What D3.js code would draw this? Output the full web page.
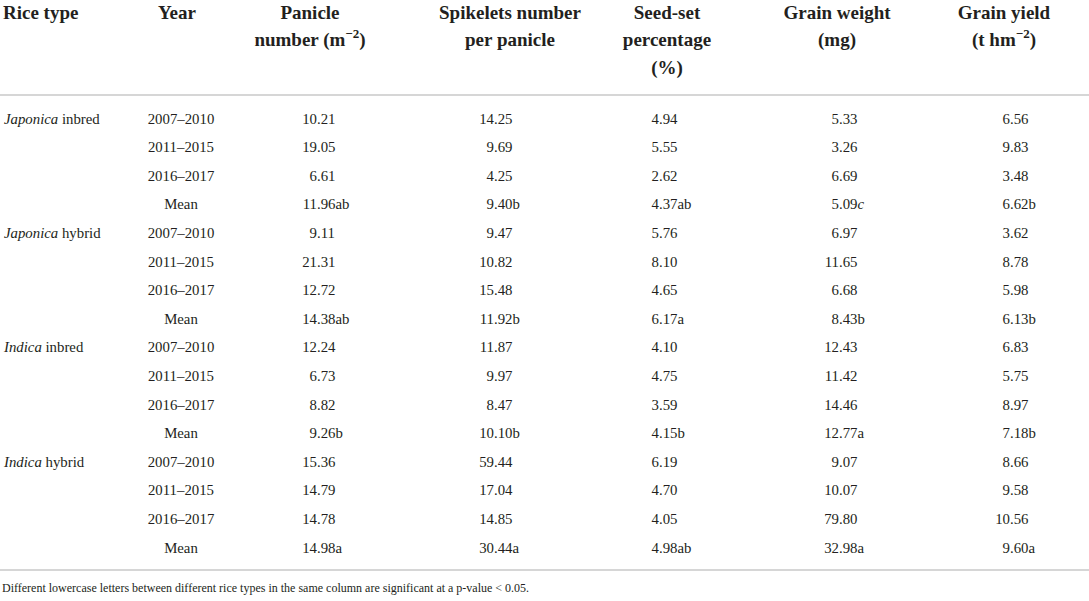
<!DOCTYPE html>
<html>
<head>
<meta charset="utf-8">
<script src="https://cdn.jsdelivr.net/npm/d3@7"></script>
<style>
  html, body { margin: 0; padding: 0; background: #fff; }
  svg text { font-family: "Liberation Serif", "DejaVu Serif", serif; fill: #231f20; }
</style>
</head>
<body>
<svg id="vis" width="1089" height="601"></svg>
<script>
// table data, one array per column
const riceTypes = ["Japonica inbred", "Japonica hybrid", "Indica inbred", "Indica hybrid"];
const years = ["2007–2010", "2011–2015", "2016–2017", "Mean"];

const panicleNumber = [
  "10.21", "19.05", "6.61", "11.96ab",
  "9.11", "21.31", "12.72", "14.38ab",
  "12.24", "6.73", "8.82", "9.26b",
  "15.36", "14.79", "14.78", "14.98a"
];
const spikeletsPerPanicle = [
  "14.25", "9.69", "4.25", "9.40b",
  "9.47", "10.82", "15.48", "11.92b",
  "11.87", "9.97", "8.47", "10.10b",
  "59.44", "17.04", "14.85", "30.44a"
];
const seedSet = [
  "4.94", "5.55", "2.62", "4.37ab",
  "5.76", "8.10", "4.65", "6.17a",
  "4.10", "4.75", "3.59", "4.15b",
  "6.19", "4.70", "4.05", "4.98ab"
];
const grainWeight = [
  "5.33", "3.26", "6.69", "5.09c",
  "6.97", "11.65", "6.68", "8.43b",
  "12.43", "11.42", "14.46", "12.77a",
  "9.07", "10.07", "79.80", "32.98a"
];
const grainYield = [
  "6.56", "9.83", "3.48", "6.62b",
  "3.62", "8.78", "5.98", "6.13b",
  "6.83", "5.75", "8.97", "7.18b",
  "8.66", "9.58", "10.56", "9.60a"
];
const italicSuffixes = ["c"];
const footnote = "Different lowercase letters between different rice types in the same column are significant at a p-value < 0.05.";

// headers: lines of text, "^" marks a superscript part
const headers = [
  ["Rice type"],
  ["Year"],
  ["Panicle", "number (m^−2^)"],
  ["Spikelets number", "per panicle"],
  ["Seed-set", "percentage", "(%)"],
  ["Grain weight", "(mg)"],
  ["Grain yield", "(t hm^−2^)"]
];

const valueColumns = [panicleNumber, spikeletsPerPanicle, seedSet, grainWeight, grainYield];

// layout
const width = 1089, height = 601;
const headerX = [3, 177, 310, 510, 667, 837, 1004];
const decimalX = [317, 494, 659, 839, 1010];
const yearX = 181;
const riceX = 4;
const ruleTop = 95, ruleBottom = 570;
const bodySize = 14.8, headerSize = 19;

const vis = d3.select('#vis');

const rows = d3.range(riceTypes.length * years.length);
const y = d3.scalePoint().domain(rows).range([118.5, 547.5]);

// header
const headerLine = d3.scaleLinear().domain([0, 1]).range([12, 39.5]);
headers.forEach((lines, ci) => {
  lines.forEach((line, li) => {
    const t = vis.append('text')
      .attr('x', headerX[ci])
      .attr('y', headerLine(li))
      .attr('text-anchor', ci === 0 ? 'start' : 'middle')
      .attr('font-weight', 'bold')
      .attr('font-size', headerSize)
      .attr('dy', '0.35em');
    line.split('^').forEach((part, pi) => {
      if (!part) return;
      const sp = t.append('tspan').text(part);
      if (pi % 2 === 1) {
        sp.attr('font-size', 13).attr('dy', -8);
      } else if (pi > 0) {
        sp.attr('dy', 8);
      }
    });
  });
});

// rules
vis.selectAll('line.rule').data([ruleTop, ruleBottom])
  .enter().append('line')
    .classed('rule', true)
    .attr('x1', 0).attr('x2', width)
    .attr('y1', d => d).attr('y2', d => d)
    .attr('stroke', '#c8c8c8')
    .attr('stroke-width', 1.5);

// rice type labels, first word italic
vis.selectAll('text.rice').data(riceTypes)
  .enter().append('text')
    .classed('rice', true)
    .attr('x', riceX)
    .attr('y', (d, i) => y(i * years.length))
    .attr('dy', '0.35em')
    .attr('font-size', bodySize)
    .each(function(d) {
      const [first, ...rest] = d.split(' ');
      const t = d3.select(this);
      t.append('tspan').attr('font-style', 'italic').text(first);
      t.append('tspan').text(' ' + rest.join(' '));
    });

// year labels
vis.selectAll('text.year').data(rows)
  .enter().append('text')
    .classed('year', true)
    .attr('x', yearX)
    .attr('y', d => y(d))
    .attr('dy', '0.35em')
    .attr('text-anchor', 'middle')
    .attr('font-size', bodySize)
    .text(d => years[d % years.length]);

// values, aligned on the decimal point
valueColumns.forEach((col, ci) => {
  const cells = col.map((v, i) => {
    const m = v.match(/^(\d+)(\.\d+)(.*)$/);
    return { row: i, int: m[1], frac: m[2], suffix: m[3] };
  });
  const g = vis.append('g').classed('col' + ci, true);
  g.selectAll('text.int').data(cells)
    .enter().append('text')
      .classed('int', true)
      .attr('x', decimalX[ci])
      .attr('y', d => y(d.row))
      .attr('dy', '0.35em')
      .attr('text-anchor', 'end')
      .attr('font-size', bodySize)
      .text(d => d.int);
  g.selectAll('text.frac').data(cells)
    .enter().append('text')
      .classed('frac', true)
      .attr('x', decimalX[ci])
      .attr('y', d => y(d.row))
      .attr('dy', '0.35em')
      .attr('font-size', bodySize)
      .each(function(d) {
        const t = d3.select(this);
        t.append('tspan').text(d.frac);
        if (d.suffix) {
          t.append('tspan')
            .attr('font-style', italicSuffixes.includes(d.suffix) ? 'italic' : null)
            .text(d.suffix);
        }
      });
});

// footnote
vis.append('text')
  .attr('x', 2)
  .attr('y', 588)
  .attr('dy', '0.35em')
  .attr('font-size', 12)
  .text(footnote);
</script>
</body>
</html>
